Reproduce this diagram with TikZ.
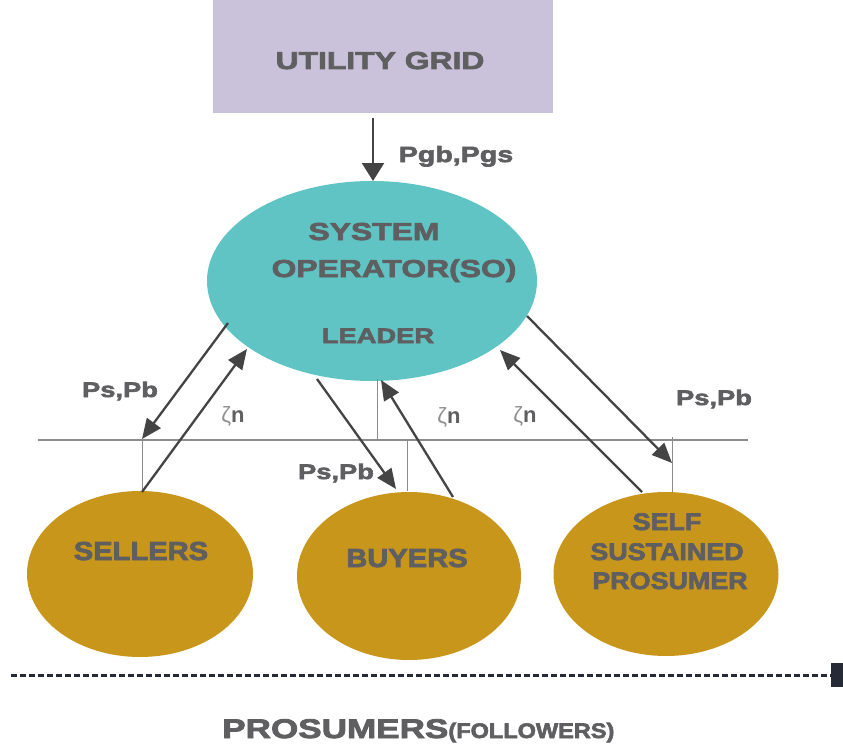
\documentclass[tikz,border=0pt]{standalone}
\usepackage{fontspec}
\setmainfont{Liberation Sans}
\newfontfamily\widefont[FakeStretch=1.3,FakeBold=3]{Liberation Sans}
\newfontfamily\ovalfont[FakeStretch=1.12,FakeBold=3]{Liberation Sans}
\newfontfamily\plainfont{Liberation Sans}
\usetikzlibrary{arrows.meta,shapes.geometric}
\definecolor{gridfill}{HTML}{CAC1DA}
\definecolor{sofill}{HTML}{5FC4C3}
\definecolor{prosfill}{HTML}{C8961B}
\definecolor{txt}{HTML}{5F5F62}
\definecolor{zetagray}{HTML}{8E8E8E}
\definecolor{arr}{HTML}{444444}
\definecolor{rulegray}{HTML}{8C8C8C}
\definecolor{navy}{HTML}{252A36}
\begin{document}
\begin{tikzpicture}[x=1pt,y=-1pt,
  txtnode/.style={text=txt,inner sep=0pt,anchor=base},
  wide/.style={txtnode,font=\widefont\bfseries\fontsize{#1}{#1}\selectfont},
  oval/.style={txtnode,font=\ovalfont\bfseries\fontsize{#1}{#1}\selectfont},
  zeta/.style={txtnode,font=\plainfont\fontsize{22}{22}\selectfont},
  flow/.style={draw=arr,line width=2.3pt,-{Triangle[length=20pt,width=17pt]}},
  tickline/.style={draw=rulegray,line width=1pt},
  prosumer/.style={ellipse,fill=prosfill,inner sep=0pt}]
\useasboundingbox (0,0) rectangle (843,749);

% utility grid and system operator
\node[rectangle,fill=gridfill,minimum width=340pt,minimum height=113pt,inner sep=0pt] (grid) at (383,56.5) {};
\node[wide=24.5] (gridtxt) at (380,69) {UTILITY GRID};
\node[ellipse,fill=sofill,minimum width=330pt,minimum height=200pt,inner sep=0pt] (so) at (372,281) {};
\node[wide=24.5] (sotxt1) at (374,240) {SYSTEM};
\node[wide=24.5] (sotxt2) at (394,277) {OPERATOR(SO)};
\node[wide=21] (sotxt3) at (378,343) {LEADER};

% prosumer groups
\node[prosumer,minimum width=226pt,minimum height=166pt] (sell) at (140,574) {};
\node[prosumer,minimum width=224pt,minimum height=168pt] (buy) at (409,576) {};
\node[prosumer,minimum width=225pt,minimum height=164pt] (self) at (666,574) {};
\node[oval=26] (selltxt) at (141,560) {SELLERS};
\node[oval=26] (buytxt) at (407,567) {BUYERS};
\node[oval=24] (selftxt1) at (667,530) {SELF};
\node[oval=24] (selftxt2) at (667,560) {SUSTAINED};
\node[oval=24] (selftxt3) at (670,589) {PROSUMER};

% reference rail and ticks
\coordinate (railL) at (38,440);
\coordinate (railR) at (748,440);
\draw[draw=rulegray,line width=2.2pt] (railL) -- (railR);
\coordinate (t1a) at (142,440); \coordinate (t1b) at (142,492);
\coordinate (t2a) at (377,379); \coordinate (t2b) at (377,440);
\coordinate (t3a) at (407,440); \coordinate (t3b) at (407,491);
\coordinate (t4a) at (672,437); \coordinate (t4b) at (672,492);
\draw[tickline] (t1a) -- (t1b);
\draw[tickline] (t2a) -- (t2b);
\draw[tickline] (t3a) -- (t3b);
\draw[tickline] (t4a) -- (t4b);

% power and price flows
\coordinate (gout) at (373,118);
\coordinate (soin) at (373,181);
\draw[flow,-{Triangle[length=18pt,width=22pt]}] (gout) -- (soin);
\node[wide=22] (pg) at (456,162) {Pgb,Pgs};

\coordinate (a1s) at (228,323); \coordinate (a1e) at (142,439);
\coordinate (a2s) at (142,492); \coordinate (a2e) at (247,349);
\coordinate (a3s) at (317,379); \coordinate (a3e) at (396,489);
\coordinate (a4s) at (453,497); \coordinate (a4e) at (381,380);
\coordinate (a5s) at (642,492); \coordinate (a5e) at (500,350);
\coordinate (a6s) at (527,316); \coordinate (a6e) at (672,463);
\draw[flow] (a1s) -- (a1e);
\draw[flow] (a2s) -- (a2e);
\draw[flow] (a3s) -- (a3e);
\draw[flow] (a4s) -- (a4e);
\draw[flow] (a5s) -- (a5e);
\draw[flow] (a6s) -- (a6e);

\node[wide=21] (pp1) at (120,397) {Ps,Pb};
\node[wide=21] (pp2) at (336,479) {Ps,Pb};
\node[wide=21] (pp3) at (714,405) {Ps,Pb};
\node[zeta] (z1) at (233,422) {{\color{zetagray}ζ}\bfseries n};
\node[zeta] (z2) at (449,423) {{\color{zetagray}ζ}\bfseries n};
\node[zeta] (z3) at (525,422) {{\color{zetagray}ζ}\bfseries n};

% follower boundary
\coordinate (dashL) at (11,675);
\coordinate (dashR) at (831,675);
\draw[draw=navy,line width=3pt,dash pattern=on 6pt off 3pt] (dashL) -- (dashR);
\node[rectangle,fill=navy,minimum width=12pt,minimum height=24pt,inner sep=0pt,anchor=west] (endmark) at (831,675) {};

\node[txtnode,anchor=base west,font=\widefont\bfseries\fontsize{27}{27}\selectfont] (foll) at (222,738)
  {PROSUMERS{\ovalfont\fontsize{21}{21}\selectfont(FOLLOWERS)}};
\end{tikzpicture}
\end{document}
